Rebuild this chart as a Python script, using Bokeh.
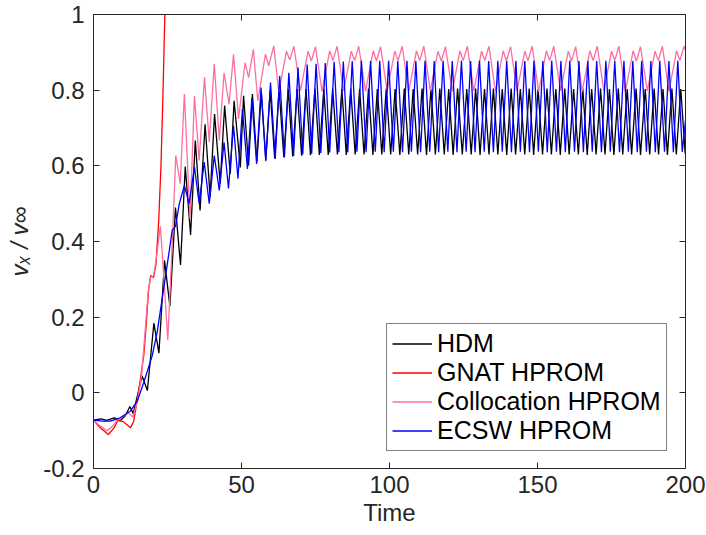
from bokeh.plotting import figure
from bokeh.models import LinearAxis, Legend, LegendItem, FixedTicker, Range1d, ColumnDataSource
from bokeh.embed import file_html
from bokeh.resources import INLINE

# ---------------- data ----------------
x_ticks = [0, 50, 100, 150, 200]
y_ticks = [-0.2, 0, 0.2, 0.4, 0.6, 0.8, 1]
y_tick_labels = ["-0.2", "0", "0.2", "0.4", "0.6", "0.8", "1"]
series_names = ["HDM", "GNAT HPROM", "Collocation HPROM", "ECSW HPROM"]
series_colors = ["#000000", "#ff0000", "#ff6ea0", "#0000ff"]

# HDM (black): transient, then steady oscillation (peak, trough alternating)
hdm_t = [0, 2.5, 4.5, 7, 9, 10.8, 12.3, 13.4, 16.4, 18.2,
         20.4, 22.1, 24.0, 25.8, 27.7, 29.4, 31.0, 32.8, 34.4, 36.0,
         37.7, 39.4, 40.9, 42.8, 44.3, 46.2, 47.5, 49.6, 50.7, 52.4,
         53.7, 55.2, 56.7, 58.2, 59.7, 61.2, 62.7, 64.3, 65.8, 67.3,
         68.8, 70.3, 71.8, 73.3, 74.8, 76.3, 77.8, 79.3, 80.8, 82.4,
         83.9, 85.4, 86.9, 88.4, 89.9, 91.4, 92.9, 94.4, 95.9, 97.4,
         98.9, 100.4, 101.9, 103.5, 105.0, 106.5, 108.0, 109.5, 111.0, 112.5,
         114.0, 115.5, 117.0, 118.5, 120.0, 121.5, 123.0, 124.6, 126.1, 127.6,
         129.1, 130.6, 132.1, 133.6, 135.1, 136.6, 138.1, 139.6, 141.1, 142.6,
         144.2, 145.7, 147.2, 148.7, 150.2, 151.7, 153.2, 154.7, 156.2, 157.7,
         159.2, 160.7, 162.2, 163.8, 165.3, 166.8, 168.3, 169.8, 171.3, 172.8,
         174.3, 175.8, 177.3, 178.8, 180.3, 181.8, 183.3, 184.8, 186.4, 187.9,
         189.4, 190.9, 192.4, 193.9, 195.4, 196.9, 198.4, 199.9]
hdm_v = [-0.072, -0.069, -0.073, -0.066, -0.074, -0.060, -0.036, -0.055, 0.045, 0.006,
         0.184, 0.105, 0.350, 0.229, 0.490, 0.338, 0.598, 0.417, 0.667, 0.482,
         0.710, 0.518, 0.737, 0.553, 0.759, 0.579, 0.772, 0.596, 0.785, 0.601,
         0.790, 0.610, 0.795, 0.616, 0.799, 0.620, 0.801, 0.623, 0.802, 0.625,
         0.803, 0.627, 0.803, 0.628, 0.804, 0.629, 0.803, 0.629, 0.804, 0.630,
         0.803, 0.629, 0.804, 0.630, 0.803, 0.630, 0.804, 0.629, 0.803, 0.630,
         0.804, 0.630, 0.803, 0.629, 0.804, 0.630, 0.803, 0.630, 0.804, 0.629,
         0.803, 0.630, 0.804, 0.630, 0.803, 0.629, 0.804, 0.630, 0.803, 0.630,
         0.804, 0.629, 0.803, 0.630, 0.804, 0.630, 0.803, 0.629, 0.804, 0.630,
         0.803, 0.630, 0.804, 0.629, 0.803, 0.630, 0.804, 0.630, 0.803, 0.629,
         0.804, 0.630, 0.803, 0.630, 0.804, 0.629, 0.803, 0.630, 0.804, 0.630,
         0.803, 0.629, 0.804, 0.630, 0.803, 0.630, 0.804, 0.629, 0.803, 0.630,
         0.804, 0.630, 0.803, 0.629, 0.804, 0.630, 0.803, 0.632]

# GNAT HPROM (red): diverges and leaves the axes
gnat_t = [0, 2, 5, 7, 8.3, 10, 12.5, 13.6, 15, 16,
          17, 17.8, 18.6, 19.3, 20.3, 21.1, 22, 22.8, 23.5, 24.1, 24.6]
gnat_v = [-0.072, -0.090, -0.110, -0.092, -0.072, -0.076, -0.092, -0.075, -0.008, 0.045,
          0.100, 0.180, 0.270, 0.310, 0.305, 0.340, 0.450, 0.600, 0.800, 1.000, 1.200]

# Collocation HPROM (pink): double-peaked oscillation
coll_t = [0, 2, 4.5, 6.5, 8, 10, 11.8, 13.3, 15, 16.3,
          17.5, 18.5, 19.3, 20.3, 21.3, 22.6, 23.8, 25.1, 26.4, 27.8,
          29.3, 30.7, 32.6, 34.1, 35.7, 37.5, 39.1, 40.8, 42.5, 44.1,
          45.8, 47.3, 49.0, 51.2, 52.4, 54.0, 55.5, 58.1, 59.2, 60.9,
          62.6, 65.2, 66.3, 67.7,
          69.9, 72.5, 73.6, 75.0,
          77.2, 79.8, 80.9, 82.3,
          84.5, 87.1, 88.2, 89.6,
          91.9, 94.5, 95.6, 97.0,
          99.2, 101.8, 102.9, 104.3,
          106.5, 109.1, 110.2, 111.6,
          113.8, 116.4, 117.5, 118.9,
          121.2, 123.8, 124.9, 126.3,
          128.5, 131.1, 132.2, 133.6,
          135.8, 138.4, 139.5, 140.9,
          143.1, 145.7, 146.8, 148.2,
          150.4, 153.0, 154.1, 155.5,
          157.8, 160.4, 161.5, 162.9,
          165.1, 167.7, 168.8, 170.2,
          172.4, 175.0, 176.1, 177.5,
          179.7, 182.3, 183.4, 184.8,
          187.1, 189.7, 190.8, 192.2,
          194.4, 197.0, 198.1, 199.5,
          200.0]
coll_v = [-0.072, -0.086, -0.100, -0.088, -0.072, -0.062, -0.053, -0.064, -0.017, 0.050,
          0.170, 0.270, 0.305, 0.310, 0.360, 0.440, 0.300, 0.140, 0.360, 0.627,
          0.553, 0.790, 0.460, 0.785, 0.614, 0.834, 0.663, 0.870, 0.667, 0.846,
          0.763, 0.895, 0.724, 0.873, 0.833, 0.908, 0.772, 0.895, 0.864, 0.917,
          0.794, 0.903, 0.880, 0.916,
          0.798, 0.903, 0.877, 0.915,
          0.797, 0.904, 0.878, 0.916,
          0.798, 0.903, 0.878, 0.916,
          0.797, 0.904, 0.877, 0.915,
          0.798, 0.903, 0.878, 0.916,
          0.797, 0.904, 0.878, 0.916,
          0.798, 0.903, 0.877, 0.915,
          0.797, 0.904, 0.878, 0.916,
          0.798, 0.903, 0.878, 0.916,
          0.797, 0.904, 0.877, 0.915,
          0.798, 0.903, 0.878, 0.916,
          0.797, 0.904, 0.878, 0.916,
          0.798, 0.903, 0.877, 0.915,
          0.797, 0.904, 0.878, 0.916,
          0.798, 0.903, 0.878, 0.916,
          0.797, 0.904, 0.877, 0.915,
          0.798, 0.903, 0.878, 0.916,
          0.797, 0.904, 0.878, 0.916,
          0.905]

# ECSW HPROM (blue)
ecsw_t = [0, 3, 5.7, 9, 12.5, 14.8, 17, 19.8, 21.5, 23.6,
          25.5, 26.6, 27.7, 29.0, 30.7, 32.3, 34.1, 35.7, 37.4, 39.1,
          40.8, 42.5, 44.1, 45.6, 47.3, 48.8, 50.3, 52.0,
          53.5, 55.1, 56.6, 58.2, 59.8, 61.4, 62.9, 64.5, 66.0, 67.6,
          69.1, 70.7, 72.2, 73.7, 75.2, 76.8, 78.3, 79.8, 81.3, 82.9,
          84.4, 85.9, 87.4, 89.0, 90.5, 92.1, 93.6, 95.2, 96.7, 98.2,
          99.7, 101.3, 102.8, 104.4, 105.9, 107.4, 108.9, 110.5, 112.0, 113.6,
          115.1, 116.6, 118.1, 119.7, 121.2, 122.8, 124.3, 125.9, 127.4, 128.9,
          130.4, 132.0, 133.5, 135.1, 136.6, 138.1, 139.6, 141.2, 142.7, 144.2,
          145.7, 147.3, 148.8, 150.3, 151.8, 153.3, 154.8, 156.4, 157.9, 159.4,
          160.9, 162.5, 164.0, 165.5, 167.0, 168.5, 170.0, 171.6, 173.1, 174.6,
          176.1, 177.7, 179.2, 180.7, 182.2, 183.7, 185.2, 186.8, 188.3, 189.8,
          191.3, 192.9, 194.4, 195.9, 197.4, 198.9,
          200.0]
ecsw_v = [-0.072, -0.075, -0.075, -0.066, -0.048, -0.022, 0.028, 0.097, 0.160, 0.270,
          0.370, 0.430, 0.440, 0.500, 0.548, 0.500, 0.597, 0.500, 0.610, 0.500,
          0.627, 0.535, 0.662, 0.540, 0.706, 0.566, 0.750, 0.592,
          0.780, 0.605, 0.807, 0.612, 0.820, 0.618, 0.838, 0.622, 0.846, 0.626,
          0.860, 0.630, 0.868, 0.632, 0.870, 0.634, 0.872, 0.635, 0.875, 0.636,
          0.876, 0.636, 0.877, 0.637, 0.878, 0.636, 0.877, 0.637, 0.878, 0.636,
          0.878, 0.637, 0.877, 0.636, 0.878, 0.637, 0.877, 0.636, 0.878, 0.637,
          0.877, 0.636, 0.878, 0.637, 0.877, 0.636, 0.878, 0.637, 0.877, 0.636,
          0.878, 0.637, 0.877, 0.636, 0.878, 0.637, 0.877, 0.636, 0.878, 0.637,
          0.877, 0.636, 0.878, 0.637, 0.877, 0.636, 0.878, 0.637, 0.877, 0.636,
          0.878, 0.637, 0.877, 0.636, 0.878, 0.637, 0.877, 0.636, 0.878, 0.637,
          0.877, 0.636, 0.878, 0.637, 0.877, 0.636, 0.878, 0.637, 0.877, 0.636,
          0.878, 0.637, 0.877, 0.636, 0.878, 0.637,
          0.720]

# ---------------- figure ----------------
FONT = "Liberation Sans"
AX_COLOR = "#262626"

p = figure(frame_width=592, frame_height=454,
           x_range=Range1d(0, 200), y_range=Range1d(-0.2, 1),
           output_backend="svg", toolbar_location=None,
           min_border_left=93, min_border_right=21,
           min_border_top=14, min_border_bottom=65)
p.background_fill_color = "white"
p.border_fill_color = "white"
p.outline_line_color = None
p.xgrid.visible = False
p.ygrid.visible = False

bottom_axis = p.below[0]
left_axis = p.left[0]
top_axis = LinearAxis()
right_axis = LinearAxis()
p.add_layout(top_axis, "above")
p.add_layout(right_axis, "right")

for ax in [bottom_axis, left_axis, top_axis, right_axis]:
    ax.major_tick_in = 6
    ax.major_tick_out = 0
    ax.minor_tick_line_color = None
    ax.axis_line_color = AX_COLOR
    ax.major_tick_line_color = AX_COLOR
    ax.axis_line_width = 1
    ax.major_label_text_font = FONT
    ax.major_label_text_font_size = "24px"
    ax.major_label_text_color = AX_COLOR

for ax in [bottom_axis, top_axis]:
    ax.ticker = FixedTicker(ticks=x_ticks)
for ax in [left_axis, right_axis]:
    ax.ticker = FixedTicker(ticks=y_ticks)
    ax.major_label_overrides = {t: lbl for t, lbl in zip(y_ticks, y_tick_labels)}

for ax in [top_axis, right_axis]:
    ax.major_label_text_font_size = "0px"
    ax.major_label_text_color = None
    ax.major_label_standoff = 0

bottom_axis.major_label_standoff = 7
bottom_axis.axis_label = "Time"
bottom_axis.axis_label_text_font = FONT
bottom_axis.axis_label_text_font_size = "24px"
bottom_axis.axis_label_text_font_style = "normal"
bottom_axis.axis_label_text_color = AX_COLOR
bottom_axis.axis_label_standoff = 3

left_axis.major_label_standoff = 9
left_axis.axis_label = "vₓ / v∞"
left_axis.axis_label_text_font = FONT
left_axis.axis_label_text_font_size = "24px"
left_axis.axis_label_text_font_style = "italic"
left_axis.axis_label_text_color = AX_COLOR
left_axis.axis_label_standoff = 7

all_t = [hdm_t, gnat_t, coll_t, ecsw_t]
all_v = [hdm_v, gnat_v, coll_v, ecsw_v]
renderers = []
for t, v, c in zip(all_t, all_v, series_colors):
    src = ColumnDataSource(data=dict(t=t, v=v))
    r = p.line("t", "v", source=src, line_color=c, line_width=1.3)
    renderers.append(r)

legend = Legend(
    items=[LegendItem(label=n, renderers=[r]) for n, r in zip(series_names, renderers)],
    location=(293, 17),
    label_text_font=FONT, label_text_font_size="25px", label_text_color="#000000",
    padding=5, spacing=0, margin=0,
    glyph_width=40, glyph_height=27, label_height=27, label_standoff=5,
    border_line_color="#000000", border_line_width=1,
    background_fill_color="white", background_fill_alpha=1.0,
)
p.add_layout(legend)

open("out.html", "w").write(file_html(p, INLINE))
